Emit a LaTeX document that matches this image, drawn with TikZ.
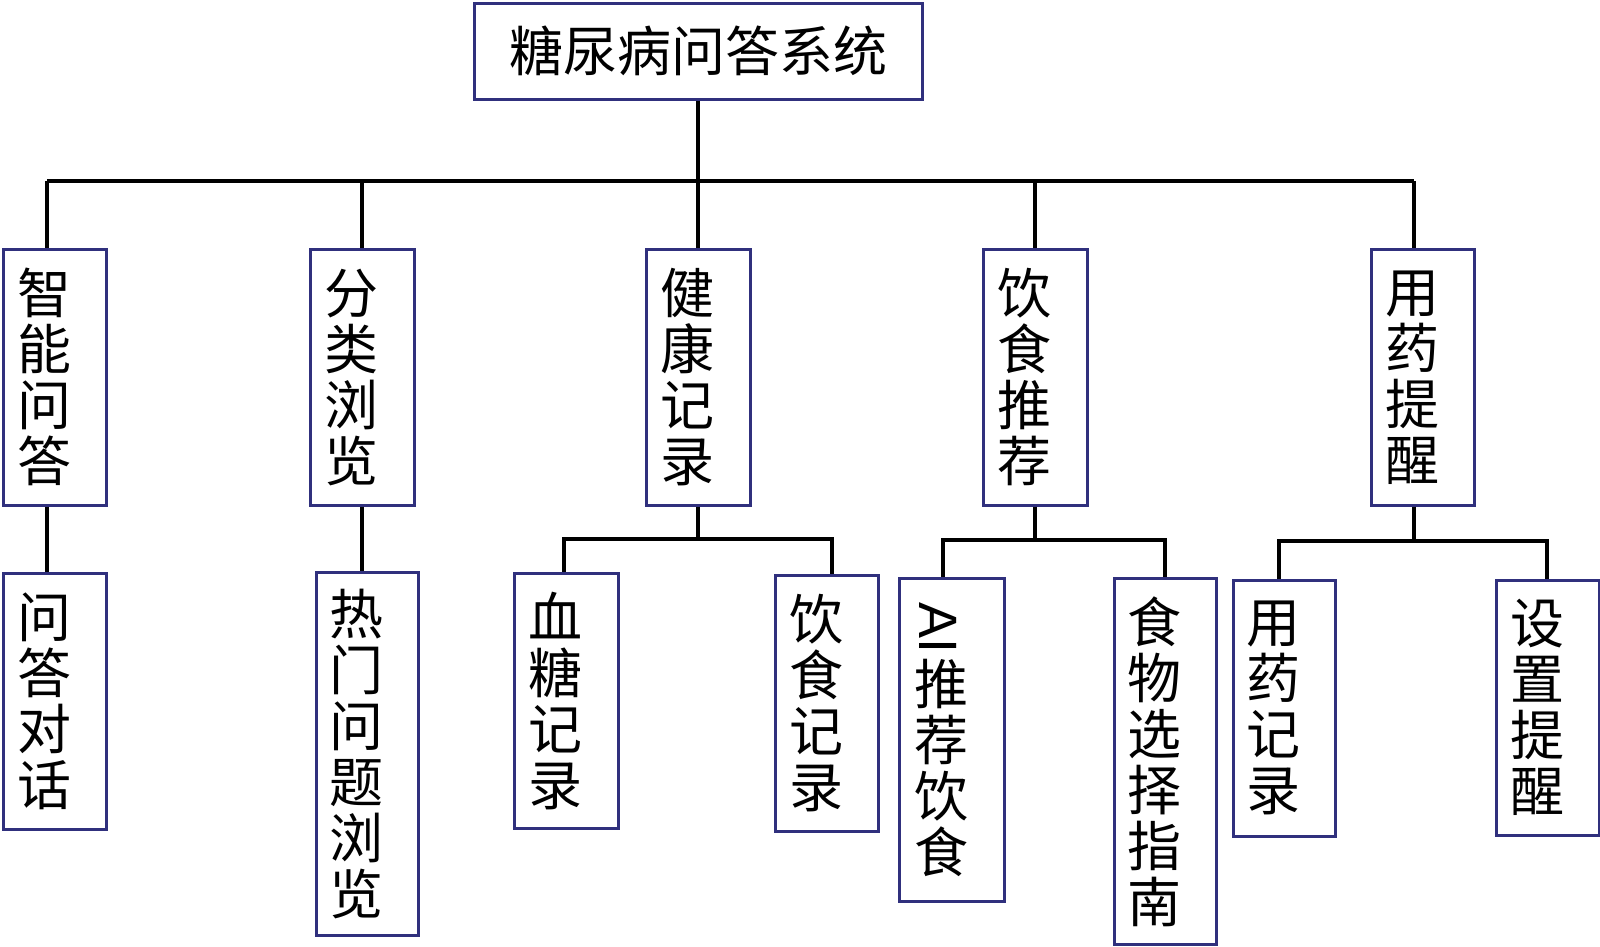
\documentclass[tikz,border=0pt]{standalone}
\usepackage{fontspec}
\newfontfamily\cjk{Noto Sans CJK SC}
\newfontfamily\latin{Liberation Sans}
\definecolor{boxc}{RGB}{48,48,125}
\tikzset{
  box/.style={draw=boxc, line width=2.6pt, anchor=north west, inner sep=0pt,
    font=\cjk\fontsize{54}{56}\selectfont},
  vbox/.style={box, align=left, text width=75pt},
  conn/.style={line width=4pt, black}
}
\begin{document}
\begin{tikzpicture}[x=1pt,y=-1pt]
\useasboundingbox (0,0) rectangle (1600,946);

% root
\node[box, minimum width=448pt, minimum height=96pt, align=center] (root) at (473,2) {糖尿病问答系统};

% level 1
\node[vbox, minimum width=103pt, minimum height=256pt] (a1) at (2,248) {智\\能\\问\\答};
\node[vbox, minimum width=104pt, minimum height=256pt] (a2) at (309,248) {分\\类\\浏\\览};
\node[vbox, minimum width=104pt, minimum height=256pt] (a3) at (645,248) {健\\康\\记\\录};
\node[vbox, minimum width=104pt, minimum height=256pt] (a4) at (982,248) {饮\\食\\推\\荐};
\node[vbox, minimum width=103pt, minimum height=256pt] (a5) at (1370,248) {用\\药\\提\\醒};

% level 2
\node[vbox, minimum width=103pt, minimum height=256pt] (b1) at (2,572) {问\\答\\对\\话};
\node[vbox, minimum width=102pt, minimum height=363pt] (b2) at (315,571) {热\\门\\问\\题\\浏\\览};
\node[vbox, minimum width=104pt, minimum height=255pt] (b3) at (513,572) {血\\糖\\记\\录};
\node[vbox, minimum width=103pt, minimum height=256pt] (b4) at (774,574) {饮\\食\\记\\录};
\node[vbox, minimum width=105pt, minimum height=323pt] (b5) at (898,577)
  {\hspace*{5pt}\raisebox{46pt}{\rotatebox{-90}{\latin\fontsize{54}{56}\selectfont AI}}\\推\\荐\\饮\\食};
\node[vbox, minimum width=102pt, minimum height=366pt] (b6) at (1113,577) {食\\物\\选\\择\\指\\南};
\node[vbox, minimum width=102pt, minimum height=256pt] (b7) at (1232,579) {用\\药\\记\\录};
\node[vbox, minimum width=103pt, minimum height=255pt] (b8) at (1495,579) {设\\置\\提\\醒};

% main bus
\coordinate (busL) at (47,181);
\coordinate (busR) at (1414,181);
\draw[conn] (root.south) -- (root.south |- busL);
\draw[conn] (busL) -- (busR);
\draw[conn] (busL) -- (busL |- a1.north);
\draw[conn] (a2.north) -- (a2.north |- busL);
\draw[conn] (a3.north) -- (a3.north |- busL);
\draw[conn] (a4.north) -- (a4.north |- busL);
\draw[conn] (busR) -- (busR |- a5.north);

% single children
\draw[conn] (busL |- a1.south) -- (busL |- b1.north);
\draw[conn] (a2.south) -- (a2.south |- b2.north);

% health record branch
\coordinate (h3l) at (564,539);
\coordinate (h3r) at (832,539);
\draw[conn] (a3.south) -- (a3.south |- h3l);
\draw[conn] (h3l |- b3.north) -- (h3l) -- (h3r) -- (h3r |- b4.north);

% diet branch
\coordinate (h4l) at (943,540);
\coordinate (h4r) at (1165,540);
\draw[conn] (a4.south) -- (a4.south |- h4l);
\draw[conn] (h4l |- b5.north) -- (h4l) -- (h4r) -- (h4r |- b6.north);

% medicine branch
\coordinate (h5l) at (1279,541);
\coordinate (h5r) at (1547,541);
\draw[conn] (busR |- a5.south) -- (busR |- h5l);
\draw[conn] (h5l |- b7.north) -- (h5l) -- (h5r) -- (h5r |- b8.north);
\end{tikzpicture}
\end{document}
